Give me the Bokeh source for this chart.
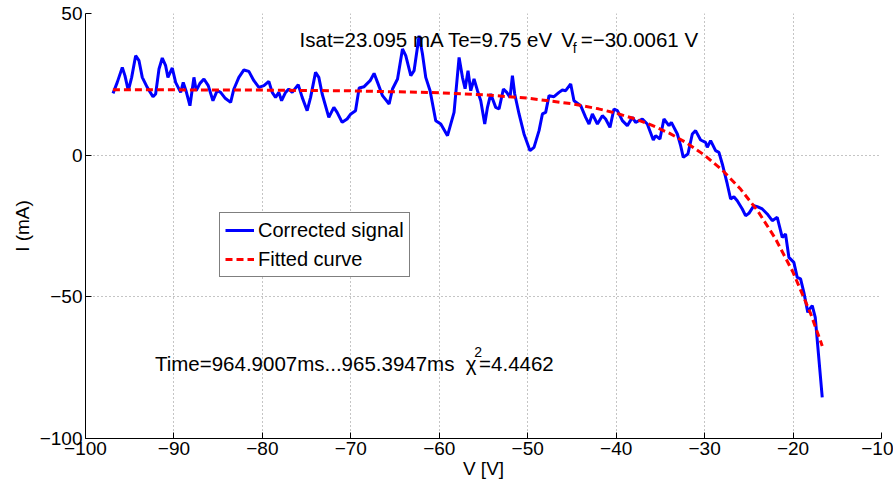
from bokeh.plotting import figure
from bokeh.models import FixedTicker, Label, Legend, LegendItem
from bokeh.embed import file_html
from bokeh.resources import INLINE

# ---- data ----
signal_v = [-96.89, -96.41, -95.84, -95.54, -95.16, -94.78, -94.33, -93.95, -93.58, -93.02,
            -92.37, -92.07, -91.69, -91.32, -90.94, -90.68, -90.19, -89.81, -89.24, -88.95,
            -88.64, -88.19, -87.74, -87.48, -87.06, -86.61, -86.12, -85.59, -85.11, -84.72,
            -84.24, -83.59, -83.22, -82.66, -82.09, -81.53, -80.96, -80.40, -79.83, -79.27,
            -78.89, -78.51, -78.14, -77.83, -77.38, -77.01, -76.63, -75.95, -75.50, -74.94,
            -74.55, -73.99, -73.62, -73.24, -72.49, -71.92, -71.55, -70.98, -70.42, -70.00,
            -69.47, -69.06, -68.50, -67.82, -67.37, -66.98, -66.42, -65.67, -65.29, -64.72,
            -64.16, -63.79, -63.22, -62.85, -62.28, -61.90, -61.53, -61.04, -60.40, -59.83,
            -59.07, -58.33, -57.76, -57.38, -57.08, -56.75, -56.44, -56.07, -55.68, -55.31,
            -54.86, -54.55, -54.18, -53.62, -53.24, -52.75, -52.37, -52.00, -51.73, -51.47,
            -50.98, -50.42, -49.74, -49.29, -48.72, -48.34, -47.97, -47.59, -47.03, -46.46,
            -46.08, -45.71, -45.14, -44.77, -44.01, -43.45, -43.07, -42.69, -42.12, -41.56,
            -41.19, -40.70, -40.25, -39.86, -39.30, -38.74, -38.17, -37.80, -37.04, -36.48,
            -35.80, -35.54, -35.05, -34.60, -34.03, -33.76, -33.08, -32.71, -32.41, -31.89,
            -31.39, -31.02, -30.45, -29.89, -29.70, -29.32, -28.76, -28.38, -28.00, -27.44,
            -27.06, -26.69, -26.31, -25.74, -25.37, -24.99, -24.43, -24.05, -23.48, -22.92,
            -22.35, -21.79, -21.22, -20.85, -20.47, -19.91, -19.53, -19.15, -18.78, -18.33,
            -18.10, -17.83, -17.49, -16.70]
signal_i = [21.81, 25.69, 30.98, 28.06, 22.76, 27.46, 35.11, 33.35, 27.46, 23.93,
            20.64, 21.60, 30.42, 34.30, 31.58, 27.46, 30.77, 25.69, 22.16, 25.69,
            22.76, 17.47, 27.46, 22.76, 25.34, 26.89, 24.53, 19.23, 22.76, 22.16,
            20.19, 18.63, 23.36, 27.46, 30.07, 29.57, 26.29, 23.93, 24.53, 26.04,
            22.16, 20.40, 22.16, 19.23, 22.16, 23.36, 22.16, 24.88, 20.40, 15.70,
            20.40, 29.22, 27.46, 21.60, 13.34, 16.87, 15.10, 11.58, 12.77, 14.54,
            15.70, 23.71, 24.17, 26.29, 28.87, 25.69, 21.00, 18.07, 23.36, 26.89,
            37.48, 35.11, 28.06, 29.82, 42.17, 35.71, 27.46, 22.76, 12.18, 11.01,
            6.88, 15.10, 34.51, 27.46, 23.47, 29.82, 22.76, 26.89, 22.76, 19.23,
            11.01, 16.87, 21.60, 16.87, 16.30, 23.36, 22.16, 20.40, 28.06, 21.60,
            14.54, 7.48, 1.59, 2.75, 8.65, 14.54, 15.10, 21.00, 20.64, 22.16,
            23.01, 22.76, 25.13, 19.23, 17.47, 13.34, 11.01, 14.54, 11.01, 13.94,
            12.77, 9.81, 16.30, 15.70, 12.18, 10.41, 13.34, 11.58, 12.77, 11.01,
            5.36, 6.88, 5.72, 12.77, 10.41, 11.58, 7.48, 3.35, -0.78, 0.42,
            7.48, 8.65, 5.36, 4.52, 2.75, 5.12, 1.59, 0.99, -3.11, -10.16,
            -15.46, -14.65, -16.06, -18.99, -21.35, -20.54, -17.82, -18.17, -18.99, -20.75,
            -23.11, -21.95, -29.01, -27.81, -36.07, -37.83, -43.12, -43.69, -48.42, -55.48,
            -54.17, -53.11, -57.24, -85.47]

fit_v = [-96.9, -90, -80, -70, -60, -55, -50, -45, -42, -40, -38, -36, -34, -32, -30,
         -28, -26, -24, -22, -20, -18, -16.7]
fit_i = [23.07, 23.05, 22.96, 22.71, 22.03, 21.32, 20.12, 18.13, 16.35, 14.82, 12.92,
         10.61, 7.76, 4.27, -0.01, -5.28, -11.74, -19.67, -29.41, -41.35, -56.03, -67.32]

x_ticks = [-100, -90, -80, -70, -60, -50, -40, -30, -20, -10]
x_tick_labels = ["\u2212100", "\u221290", "\u221280", "\u221270", "\u221260",
                 "\u221250", "\u221240", "\u221230", "\u221220", "\u221210"]
y_ticks = [-100, -50, 0, 50]
y_tick_labels = ["\u2212100", "\u221250", "0", "50"]

series_names = ["Corrected signal", "Fitted curve"]

FONT = "Liberation Sans"

p = figure(width=893, height=485, x_range=(-100, -10), y_range=(-100, 50),
           output_backend="svg", toolbar_location=None,
           min_border_left=85, min_border_right=12, min_border_top=13, min_border_bottom=47)
p.outline_line_color = None
p.background_fill_color = "white"
p.border_fill_color = "white"

r_sig = p.line(signal_v, signal_i, line_color="#0000ff", line_width=3)
r_fit = p.line(fit_v, fit_i, line_color="#ff0000", line_width=3, line_dash="7 4")

for ax, ticks, labels in ((p.xaxis[0], x_ticks, x_tick_labels), (p.yaxis[0], y_ticks, y_tick_labels)):
    ax.ticker = FixedTicker(ticks=ticks)
    ax.major_label_overrides = {t: l for t, l in zip(ticks, labels)}
    ax.major_tick_in = 6
    ax.major_tick_out = 0
    ax.minor_tick_in = 0
    ax.minor_tick_out = 0
    ax.axis_line_color = "black"
    ax.axis_line_width = 1
    ax.major_tick_line_color = "black"
    ax.major_label_text_font = FONT
    ax.major_label_text_font_size = "19px"
    ax.major_label_text_color = "black"
    ax.major_label_standoff = 3
    ax.axis_label_text_font = FONT
    ax.axis_label_text_font_size = "19px"
    ax.axis_label_text_font_style = "normal"
    ax.axis_label_text_color = "black"

p.xaxis.axis_label = "V [V]"
p.yaxis.axis_label = "I (mA)"
p.xaxis.axis_label_standoff = 0
p.yaxis.axis_label_standoff = 4

for g in (p.xgrid[0], p.ygrid[0]):
    g.grid_line_color = "#8a8a8a"
    g.grid_line_dash = "1 3"
    g.grid_line_width = 1

legend = Legend(items=[LegendItem(label=series_names[0], renderers=[r_sig]),
                       LegendItem(label=series_names[1], renderers=[r_fit])],
                location=(134, 161))
legend.label_text_font = FONT
legend.label_text_font_size = "20px"
legend.label_text_color = "black"
legend.border_line_color = "black"
legend.border_line_width = 1
legend.background_fill_alpha = 1
legend.padding = 5
legend.spacing = 5
legend.label_height = 24
legend.glyph_height = 24
legend.glyph_width = 29
legend.label_standoff = 4
legend.margin = 0
p.add_layout(legend, "center")

def lab(x, y, text, size="20.5px"):
    p.add_layout(Label(x=x, y=y, text=text, text_font=FONT, text_font_size=size,
                       text_color="black", text_baseline="alphabetic", text_align="left"))

lab(-75.8, 41.0, "Isat=23.095 mA Te=9.75 eV")
lab(-46.2, 41.0, "V")
lab(-44.92, 37.9, "f", "14px")
lab(-44.01, 41.0, "=\u221230.0061 V")

lab(-92.15, -73.7, "Time=964.9007ms...965.3947ms")
lab(-57.0, -73.7, "\u03c7")
lab(-56.05, -69.3, "2", "14px")
lab(-55.5, -73.7, "=4.4462")

open("out.html", "w").write(file_html(p, INLINE))
